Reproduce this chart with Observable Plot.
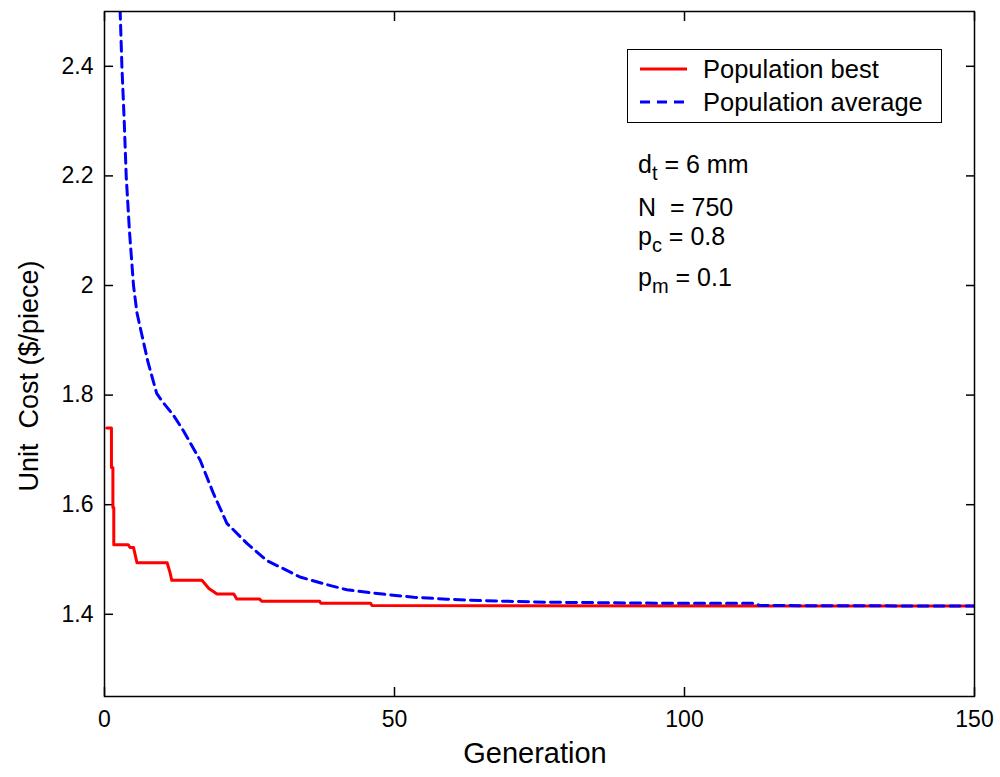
<!DOCTYPE html>
<html><head><meta charset="utf-8">
<script src="https://cdn.jsdelivr.net/npm/d3@7"></script>
<script src="https://cdn.jsdelivr.net/npm/@observablehq/plot@0.6"></script>
<style>
body{margin:0;background:#fff;}
#wrap{position:relative;width:1000px;height:777px;font-family:"Liberation Sans",Arial,Helvetica,sans-serif;color:#000;overflow:hidden;}
.abs{position:absolute;white-space:nowrap;line-height:1;}
.sub{font-size:0.8em;position:relative;top:0.35em;}
</style></head><body>
<div id="wrap"></div>
<script>
// ---- data ----
const xTicks = [0, 50, 100, 150];
const yTicks = [1.4, 1.6, 1.8, 2.0, 2.2, 2.4];
const seriesNames = ["Population best", "Population average"];

const bestGen  = [0.4, 1.2, 1.2, 1.45, 1.45, 1.6, 1.6, 4.1, 4.4, 5.0, 5.6, 10.8, 11.3, 11.6, 16.8, 18.0, 19.4, 22.3, 22.8, 26.7, 27.1, 37.1, 37.3, 45.9, 46.1, 150];
const bestCost = [1.74, 1.74, 1.668, 1.668, 1.595, 1.595, 1.527, 1.527, 1.522, 1.522, 1.494, 1.494, 1.476, 1.462, 1.462, 1.447, 1.437, 1.437, 1.428, 1.428, 1.424, 1.424, 1.420, 1.420, 1.416, 1.415];

const avgGen  = [2.3, 2.7, 3.0, 3.4, 3.74, 4.3, 5.0, 5.6, 6.4, 7.5, 9.0, 10.0, 11.9, 13.6, 16.5, 18.8, 21.1, 24.6, 28.0, 30.3, 32.6, 33.7, 37.8, 41.8, 47.5, 53.3, 59.0, 64.8, 76.3, 99.3, 112, 113, 150];
const avgCost = [2.65, 2.5, 2.4, 2.3, 2.2, 2.1, 2.0, 1.95, 1.912, 1.86, 1.803, 1.788, 1.763, 1.735, 1.681, 1.620, 1.566, 1.529, 1.498, 1.486, 1.474, 1.468, 1.4556, 1.4447, 1.4374, 1.4312, 1.4276, 1.425, 1.422, 1.420, 1.420, 1.416, 1.415];

const best = bestGen.map((g, i) => ({gen: g, cost: bestCost[i]}));
const avg  = avgGen.map((g, i) => ({gen: g, cost: avgCost[i]}));

const font = '"Liberation Sans", Arial, Helvetica, sans-serif';
const fmt = d => String(+d.toFixed(2));

const chart = Plot.plot({
  width: 1000, height: 777,
  marginLeft: 104, marginRight: 26, marginTop: 11, marginBottom: 81,
  style: {fontFamily: font, background: "white", color: "black"},
  x: {domain: [0, 150]},
  y: {domain: [1.25, 2.5]},
  marks: [
    Plot.axisX({ticks: xTicks, anchor: "bottom", tickSize: -9, tickPadding: 23, tickFormat: fmt, fontSize: 23, label: null, strokeWidth: 1.5}),
    Plot.axisX({ticks: xTicks, anchor: "top", tickSize: -9, tickFormat: () => "", label: null, strokeWidth: 1.5}),
    Plot.axisY({ticks: yTicks, anchor: "left", tickSize: -9, tickPadding: 20, tickFormat: fmt, fontSize: 23, label: null, strokeWidth: 1.5}),
    Plot.axisY({ticks: yTicks, anchor: "right", tickSize: -9, tickFormat: () => "", label: null, strokeWidth: 1.5}),
    Plot.line(best, {x: "gen", y: "cost", stroke: "#ff0000", strokeWidth: 3, clip: true}),
    Plot.line(avg, {x: "gen", y: "cost", stroke: "#0000ff", strokeWidth: 3, strokeDasharray: "10,6", clip: true}),
    Plot.frame({stroke: "black", strokeWidth: 1.5})
  ]
});

const wrap = document.getElementById("wrap");
wrap.appendChild(chart);
chart.style.position = "absolute";
chart.style.left = "0px";
chart.style.top = "0px";

function addDiv(html, css) {
  const d = document.createElement("div");
  d.className = "abs";
  d.innerHTML = html;
  Object.assign(d.style, css);
  wrap.appendChild(d);
  return d;
}

// axis titles
addDiv("Generation", {left: "535px", top: "739px", fontSize: "29px", transform: "translateX(-50%)"});
addDiv("Unit&nbsp; Cost ($/piece)", {left: "29px", top: "376px", fontSize: "27px", transform: "translate(-50%,-50%) rotate(-90deg)"});

// legend
const legend = addDiv(
  `<svg width="60" height="74" style="position:absolute;left:0;top:0">
     <line x1="12" x2="59" y1="19" y2="19" stroke="#ff0000" stroke-width="3"/>
     <line x1="12" x2="59" y1="52" y2="52" stroke="#0000ff" stroke-width="3" stroke-dasharray="10,7"/>
   </svg>
   <div class="abs" style="left:75px;top:7px;font-size:25.5px">${seriesNames[0]}</div>
   <div class="abs" style="left:75px;top:40px;font-size:25.5px">${seriesNames[1]}</div>`,
  {left: "627px", top: "49px", width: "313px", height: "72px", border: "1.5px solid black", background: "white"}
);

// annotations
addDiv('d<span class="sub">t</span> = 6 mm', {left: "638px", top: "152px", fontSize: "25px"});
addDiv('N&nbsp; = 750', {left: "638px", top: "195px", fontSize: "25px"});
addDiv('p<span class="sub">c</span> = 0.8', {left: "638px", top: "224px", fontSize: "25px"});
addDiv('p<span class="sub">m</span> = 0.1', {left: "638px", top: "265px", fontSize: "25px"});
</script>
</body></html>
